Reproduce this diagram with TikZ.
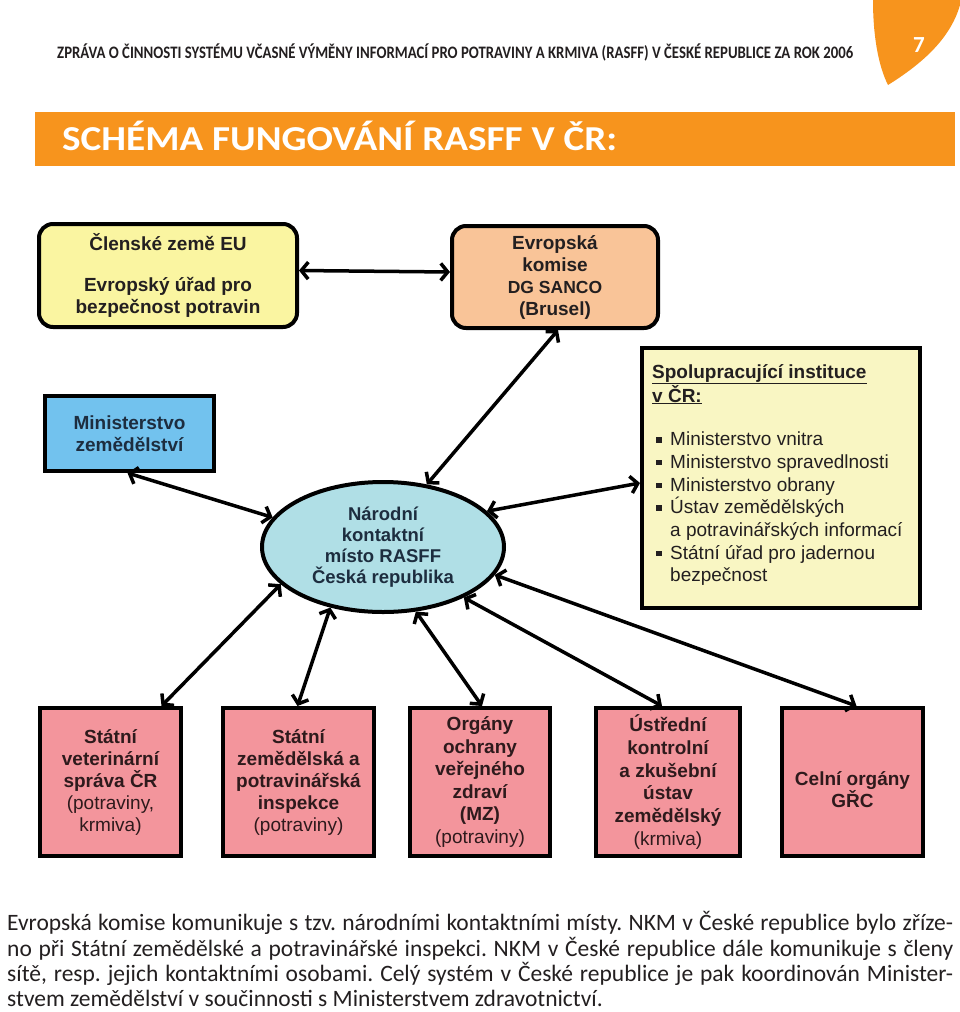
\documentclass[tikz,border=0pt]{standalone}
\usepackage{fontspec}
\setmainfont{Liberation Sans}
\newfontfamily\gillf{Carlito}
\usetikzlibrary{shapes.geometric,arrows.meta}
\definecolor{orangeA}{HTML}{F7941D}
\definecolor{clenfill}{HTML}{FAF5A1}
\definecolor{ekfill}{HTML}{F9C498}
\definecolor{mzfill}{HTML}{72C2EE}
\definecolor{ellfill}{HTML}{B0DFE6}
\definecolor{spolfill}{HTML}{F9F6C3}
\definecolor{pinkfill}{HTML}{F3959C}
\definecolor{dtext}{HTML}{231F20}
\definecolor{navytext}{HTML}{1D2D3F}
\definecolor{pinktext}{HTML}{2E1A1C}
\newcommand{\sqbul}{\makebox[18pt][l]{\hspace*{4pt}\rule[3pt]{5.5pt}{5.5pt}}}
\frenchspacing
\begin{document}
\frenchspacing
\begin{tikzpicture}[x=1pt,y=-1pt,
  box/.style={draw, line width=4pt, inner sep=0pt, align=center, font=\bfseries\fontsize{19}{22}\selectfont},
  pinkbox/.style={box, fill=pinkfill, text=pinktext, minimum height=148pt},
  dbl/.style={line width=3.5pt, {Straight Barb[length=7pt,width=17pt]}-{Straight Barb[length=7pt,width=17pt]}},
  para/.style={anchor=base west, inner sep=0pt, text=dtext, font=\gillf\fontsize{23.5}{25.5}\selectfont\frenchspacing}
]
\useasboundingbox (0,0) rectangle (960,1012);
% page corner leaf
\fill[orangeA] (873,0) .. controls (873,35) and (878,65) .. (888,85) .. controls (920,65) and (950,40) .. (960,5) -- (960,0) -- cycle;
\node[font=\gillf\bfseries\fontsize{23}{23}\selectfont, text=white, inner sep=0pt] (pg) at (919,45) {7};
% header
\node[anchor=base west, inner sep=0pt, text=dtext] (hdr) at (57,58)
  {\resizebox{796pt}{\height}{\gillf\bfseries\fontsize{17.5}{17.5}\selectfont ZPRÁVA O ČINNOSTI SYSTÉMU VČASNÉ VÝMĚNY INFORMACÍ PRO POTRAVINY A KRMIVA (RASFF) V ČESKÉ REPUBLICE ZA ROK 2006}};
% title bar
\node[fill=orangeA, minimum width=920pt, minimum height=54pt, inner sep=0pt] (bar) at (495,139) {};
\node[anchor=base west, inner sep=0pt, text=white] (title) at (62,150)
  {\resizebox{555pt}{\height}{\gillf\bfseries\fontsize{35}{35}\selectfont SCHÉMA FUNGOVÁNÍ RASFF V ČR:}};
% top boxes
\node[box, rounded corners=14pt, fill=clenfill, text=dtext, minimum width=258pt, minimum height=103pt] (clen) at (168,275.5)
  {Členské země EU\\[19pt]Evropský úřad pro\\bezpečnost potravin};
\node[box, rounded corners=14pt, fill=ekfill, text=dtext, minimum width=206pt, minimum height=102pt] (ek) at (555,277)
  {Evropská\\komise\\\fontsize{17.5}{22}\selectfont DG SANCO\\(Brusel)};
\node[box, fill=mzfill, text=navytext, minimum width=169pt, minimum height=75pt] (mz) at (129.5,433.5)
  {Ministerstvo\\zemědělství};
\node[box, ellipse, fill=ellfill, text=navytext, minimum width=242pt, minimum height=130pt, font=\bfseries\fontsize{18.5}{21}\selectfont] (ell) at (383,547)
  {Národní\\kontaktní\\místo RASFF\\Česká republika};
% right box
\node[draw, line width=4pt, fill=spolfill, minimum width=278pt, minimum height=260pt, inner sep=0pt] (spol) at (781,478) {};
\node[anchor=west, inner sep=0pt, align=left, text=dtext, font=\fontsize{19}{22.7}\selectfont] (spoltxt) at (652,475)
  {\underline{\textbf{Spolupracující instituce}}\\
   \underline{\textbf{v ČR:}}\\[21pt]
   \sqbul Ministerstvo vnitra\\
   \sqbul Ministerstvo spravedlnosti\\
   \sqbul Ministerstvo obrany\\
   \sqbul Ústav zemědělských\\
   \hspace*{18pt}a potravinářských informací\\
   \sqbul Státní úřad pro jadernou\\
   \hspace*{18pt}bezpečnost};
% bottom boxes
\node[pinkbox, minimum width=141pt] (vet) at (110.5,782)
  {Státní\\veterinární\\správa ČR\\\mdseries(potraviny,\\\mdseries krmiva)};
\node[pinkbox, minimum width=151pt] (szpi) at (298.5,782)
  {Státní\\zemědělská a\\potravinářská\\inspekce\\\mdseries(potraviny)};
\node[pinkbox, minimum width=140pt, font=\bfseries\fontsize{19}{22.6}\selectfont] (org) at (480,782)
  {Orgány\\ochrany\\veřejného\\zdraví\\(MZ)\\\mdseries(potraviny)};
\node[pinkbox, minimum width=144pt, font=\bfseries\fontsize{19}{22.7}\selectfont] (ukz) at (668,782)
  {Ústřední\\kontrolní\\a zkušební\\ústav\\zemědělský\\\mdseries(krmiva)};
\node[pinkbox, minimum width=141pt] (celni) at (852.5,782)
  {\raisebox{-10pt}[\height][\depth]{\begin{tabular}{@{}c@{}}Celní orgány\\[-2pt]GŘC\end{tabular}}};
% connectors
\draw[dbl] ([yshift=5pt]clen.east) -- ([yshift=5pt]ek.west);
\draw[dbl] ([xshift=3pt]ek.south) -- (ell.55);
\draw[dbl] ([xshift=-2pt]mz.south) -- (ell.165);
\draw[dbl] (ell.19) -- ([yshift=-5pt]spol.west);
\draw[dbl] (ell.-14) -- ([xshift=4pt]celni.north);
\draw[dbl] (ell.-32) -- ([xshift=-6pt]ukz.north);
\draw[dbl] (ell.-63) -- ([xshift=2pt]org.north);
\draw[dbl] (ell.-131) -- ([xshift=-1pt]szpi.north);
\draw[dbl] (ell.-160) -- ([xshift=51pt]vet.north);
% paragraph
\node[para] (p1) at (7,930) {\makebox[946pt][s]{Evropská komise komunikuje s tzv. národními kontaktními místy. NKM v České republice bylo zříze-}};
\node[para] (p2) at (7,956) {\makebox[946pt][s]{no při Státní zemědělské a potravinářské inspekci. NKM v České republice dále komunikuje s členy}};
\node[para] (p3) at (7,981) {\makebox[946pt][s]{sítě, resp. jejich kontaktními osobami. Celý systém v České republice je pak koordinován Minister-}};
\node[para] (p4) at (7,1006) {stvem zemědělství v součinnosti s Ministerstvem zdravotnictví.};
\end{tikzpicture}
\end{document}
